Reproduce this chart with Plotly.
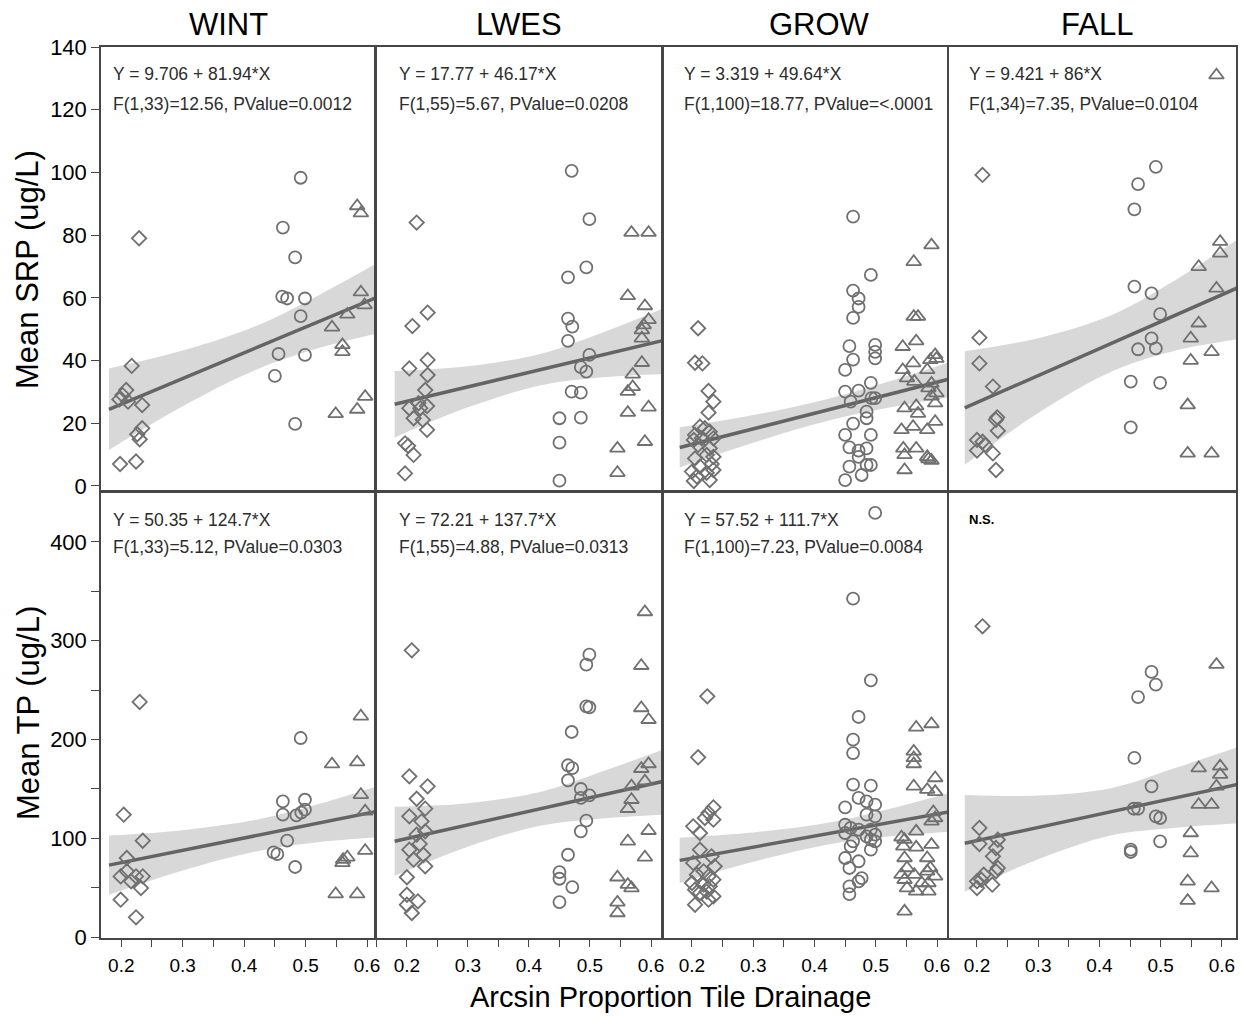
import plotly.graph_objects as go

# ---------------- data ----------------
seasons = ["WINT", "LWES", "GROW", "FALL"]
row_titles = ["Mean SRP (ug/L)", "Mean TP (ug/L)"]
x_tick_vals = [0.2, 0.3, 0.4, 0.5, 0.6]
x_tick_text = ["0.2", "0.3", "0.4", "0.5", "0.6"]

# WINT SRP
wint_srp_dia_x = [0.229, 0.217, 0.208, 0.202, 0.197, 0.211, 0.234, 0.234, 0.226, 0.230, 0.198, 0.224]
wint_srp_dia_y = [79.0, 38.3, 30.6, 29.0, 27.6, 26.9, 25.8, 18.4, 16.5, 14.9, 7.0, 7.8]
wint_srp_cir_x = [0.492, 0.463, 0.483, 0.462, 0.470, 0.499, 0.492, 0.456, 0.499, 0.450, 0.483]
wint_srp_cir_y = [98.3, 82.4, 72.9, 60.4, 59.8, 59.8, 54.2, 42.1, 41.8, 35.1, 19.8]
wint_srp_tri_x = [0.584, 0.590, 0.590, 0.568, 0.596, 0.543, 0.560, 0.560, 0.549, 0.584, 0.597]
wint_srp_tri_y = [89.3, 87.0, 61.8, 54.7, 57.7, 50.6, 45.0, 42.8, 23.0, 24.4, 28.5]

# WINT TP
wint_tp_dia_x = [0.230, 0.204, 0.235, 0.209, 0.199, 0.209, 0.216, 0.224, 0.235, 0.232, 0.199, 0.224]
wint_tp_dia_y = [238, 123.9, 97.5, 80, 61.4, 66.5, 56.4, 61.4, 61.4, 49.6, 37.8, 19.9]
wint_tp_cir_x = [0.492, 0.463, 0.499, 0.463, 0.485, 0.499, 0.493, 0.470, 0.448, 0.454, 0.483]
wint_tp_cir_y = [201.5, 137.4, 139, 123.9, 123.2, 128.9, 126, 97.5, 85.7, 84, 70.9]
wint_tp_tri_x = [0.590, 0.543, 0.584, 0.590, 0.597, 0.597, 0.568, 0.561, 0.560, 0.549, 0.584]
wint_tp_tri_y = [223.5, 175, 177, 144, 127.3, 87.4, 80.7, 78.3, 75, 43.5, 43.5]

# LWES SRP
lwes_srp_dia_x = [0.216, 0.209, 0.234, 0.204, 0.234, 0.234, 0.230, 0.204, 0.219, 0.222, 0.233, 0.211, 0.226, 0.233, 0.197, 0.202, 0.211, 0.197]
lwes_srp_dia_y = [84.0, 51.0, 55.3, 37.5, 40.2, 35.4, 30.6, 24.8, 26.4, 24.8, 25.5, 21.6, 21.1, 17.9, 13.6, 12.8, 9.9, 4.0]
lwes_srp_cir_x = [0.470, 0.499, 0.494, 0.464, 0.464, 0.471, 0.464, 0.499, 0.485, 0.494, 0.470, 0.485, 0.450, 0.485, 0.450, 0.450]
lwes_srp_cir_y = [100.5, 85.1, 69.7, 66.5, 53.4, 50.8, 46.3, 41.8, 37.9, 36.5, 30.1, 29.8, 21.6, 21.8, 13.8, 1.7]
lwes_srp_tri_x = [0.568, 0.596, 0.562, 0.590, 0.596, 0.588, 0.585, 0.585, 0.585, 0.570, 0.570, 0.562, 0.562, 0.596, 0.545, 0.590, 0.545]
lwes_srp_tri_y = [80.8, 80.8, 60.6, 57.4, 53.0, 51.3, 49.7, 47.1, 39.3, 35.6, 31.6, 30.1, 23.4, 25.1, 12.0, 14.1, 4.2]

# LWES TP
lwes_tp_dia_x = [0.208, 0.204, 0.234, 0.216, 0.230, 0.204, 0.224, 0.216, 0.230, 0.204, 0.221, 0.211, 0.227, 0.230, 0.200, 0.200, 0.218, 0.200, 0.208]
lwes_tp_dia_y = [290.3, 162.7, 152.6, 140, 130, 122.2, 117.1, 103.6, 107, 88.4, 94.2, 78.3, 83.3, 71.6, 60.5, 42.8, 36.1, 32.7, 24.3]
lwes_tp_cir_x = [0.499, 0.494, 0.494, 0.499, 0.470, 0.464, 0.471, 0.464, 0.485, 0.499, 0.485, 0.494, 0.485, 0.464, 0.450, 0.450, 0.471, 0.450]
lwes_tp_cir_y = [285.9, 275.8, 233.6, 232.6, 207.6, 173.9, 171.1, 158.7, 149.9, 143.5, 140.8, 117.8, 107, 83.3, 65.8, 59, 50.6, 35.4]
lwes_tp_tri_x = [0.590, 0.584, 0.584, 0.596, 0.596, 0.584, 0.590, 0.568, 0.568, 0.562, 0.596, 0.562, 0.590, 0.545, 0.562, 0.568, 0.545, 0.545]
lwes_tp_tri_y = [329.1, 274.7, 231.9, 220, 175.2, 170.4, 157.7, 152.6, 139, 129.9, 107.6, 96.9, 80.7, 60.5, 53, 49.6, 35.1, 24.3]

# GROW SRP
grow_srp_dia_x = [0.210, 0.205, 0.217, 0.227, 0.235, 0.227, 0.213, 0.221, 0.229, 0.205, 0.203, 0.216, 0.235, 0.210, 0.229, 0.224, 0.235, 0.205, 0.232, 0.213, 0.200, 0.208, 0.224, 0.229, 0.203, 0.235]
grow_srp_dia_y = [50.3, 39.3, 39.1, 30.3, 26.9, 23.4, 18.9, 18.4, 17.3, 16.3, 14.7, 15.2, 15.2, 13.1, 12.0, 9.9, 9.3, 8.8, 7.0, 6.2, 4.6, 3.0, 4.2, 1.9, 1.6, 5.1]
grow_srp_cir_x = [0.463, 0.492, 0.463, 0.472, 0.472, 0.463, 0.457, 0.499, 0.499, 0.499, 0.463, 0.450, 0.492, 0.450, 0.472, 0.459, 0.493, 0.499, 0.485, 0.485, 0.463, 0.450, 0.492, 0.457, 0.472, 0.485, 0.472, 0.457, 0.485, 0.492, 0.477, 0.450]
grow_srp_cir_y = [85.9, 67.3, 62.3, 59.8, 57.1, 53.6, 44.6, 45.0, 42.8, 40.7, 40.3, 37.0, 32.9, 30.1, 30.4, 26.9, 28.0, 28.0, 23.7, 21.6, 19.9, 16.3, 16.3, 12.3, 11.3, 12.0, 9.3, 6.2, 6.7, 6.7, 3.5, 1.9]
grow_srp_tri_x = [0.591, 0.562, 0.562, 0.569, 0.566, 0.544, 0.597, 0.589, 0.599, 0.561, 0.544, 0.551, 0.584, 0.563, 0.591, 0.586, 0.599, 0.591, 0.597, 0.547, 0.566, 0.569, 0.597, 0.542, 0.561, 0.584, 0.545, 0.566, 0.547, 0.584, 0.591, 0.586, 0.547]
grow_srp_tri_y = [76.8, 71.5, 54.0, 54.0, 46.2, 44.4, 41.8, 40.2, 40.6, 39.2, 37.0, 34.4, 37.0, 33.3, 32.7, 31.2, 29.6, 28.6, 26.4, 24.8, 25.5, 23.1, 20.5, 17.9, 18.9, 17.9, 12.0, 12.0, 9.9, 9.3, 8.1, 8.6, 5.1]

# GROW TP
grow_tp_dia_x = [0.225, 0.210, 0.235, 0.227, 0.221, 0.235, 0.202, 0.213, 0.213, 0.202, 0.232, 0.237, 0.219, 0.208, 0.227, 0.235, 0.200, 0.219, 0.229, 0.205, 0.213, 0.235, 0.227, 0.205, 0.224]
grow_tp_dia_y = [243.7, 182, 131.3, 125.6, 120.5, 118.8, 112.1, 105.3, 88.4, 75, 81.7, 71.6, 66.5, 63.1, 61.4, 58.0, 54.7, 53, 51.3, 47.9, 44.6, 41.2, 37.8, 32.7, 46]
grow_tp_cir_x = [0.499, 0.463, 0.492, 0.472, 0.463, 0.463, 0.463, 0.492, 0.472, 0.485, 0.450, 0.499, 0.485, 0.499, 0.450, 0.459, 0.472, 0.492, 0.485, 0.499, 0.450, 0.463, 0.492, 0.459, 0.499, 0.492, 0.450, 0.472, 0.457, 0.477, 0.472, 0.457, 0.457]
grow_tp_cir_y = [429.4, 342.6, 259.9, 222.8, 199.8, 186.3, 154.3, 153.2, 140.8, 137.4, 131.3, 134, 123.9, 122.2, 113.7, 110.4, 108.7, 108.7, 102, 103.6, 105.3, 96.9, 98.6, 91.8, 96.9, 88.4, 80, 76.7, 69.9, 59.7, 56.4, 51.3, 43.5]
grow_tp_tri_x = [0.566, 0.591, 0.562, 0.562, 0.562, 0.562, 0.597, 0.584, 0.597, 0.594, 0.597, 0.591, 0.566, 0.542, 0.547, 0.545, 0.591, 0.566, 0.547, 0.584, 0.551, 0.589, 0.542, 0.563, 0.584, 0.597, 0.547, 0.575, 0.586, 0.551, 0.566, 0.586, 0.547]
grow_tp_tri_y = [212.2, 215.7, 188, 181.3, 175.2, 152.6, 161, 149.2, 147, 126.6, 120.5, 117.1, 107, 101, 98.6, 91.8, 93.5, 90.8, 80, 80, 69.9, 69.9, 63.1, 63.1, 66.5, 61.4, 58, 54.7, 54.7, 49.6, 46.3, 46.3, 26]

# FALL SRP
fall_srp_dia_x = [0.209, 0.204, 0.204, 0.226, 0.233, 0.231, 0.234, 0.200, 0.209, 0.200, 0.213, 0.226, 0.231]
fall_srp_dia_y = [99.2, 47.3, 39.1, 31.7, 21.9, 21.1, 17.6, 14.7, 14.1, 11.3, 13.1, 10.4, 5.1]
fall_srp_cir_x = [0.492, 0.463, 0.457, 0.457, 0.485, 0.499, 0.485, 0.463, 0.492, 0.451, 0.499, 0.451]
fall_srp_cir_y = [101.8, 96.3, 88.2, 63.6, 61.4, 54.8, 47.1, 43.6, 43.9, 33.3, 32.9, 18.7]
fall_srp_tri_x = [0.591, 0.597, 0.597, 0.562, 0.591, 0.562, 0.549, 0.583, 0.549, 0.544, 0.544, 0.583]
fall_srp_tri_y = [131.0, 77.9, 74.2, 69.9, 63.0, 51.9, 47.1, 42.8, 40.0, 25.8, 10.4, 10.4]

# FALL TP
fall_tp_dia_x = [0.209, 0.204, 0.204, 0.234, 0.231, 0.226, 0.234, 0.231, 0.211, 0.200, 0.200, 0.225, 0.207]
fall_tp_dia_y = [314.6, 110.4, 94.2, 98.5, 90.1, 81.7, 69.9, 66.5, 63.1, 56.4, 49.6, 53, 58]
fall_tp_cir_x = [0.485, 0.492, 0.463, 0.457, 0.485, 0.456, 0.463, 0.492, 0.499, 0.499, 0.451, 0.451]
fall_tp_cir_y = [268.4, 255.5, 243, 181.3, 152.6, 129.9, 129.9, 122.2, 120.5, 96.9, 88.4, 86.1]
fall_tp_tri_x = [0.591, 0.562, 0.597, 0.597, 0.591, 0.562, 0.583, 0.549, 0.549, 0.544, 0.583, 0.544]
fall_tp_tri_y = [275.8, 171.1, 172.9, 164.4, 152.6, 134, 134, 105.3, 85, 56.4, 49.6, 36.8]

# regression fits (intercept, slope) as printed; FALL TP
fit_intercepts = [9.706, 17.77, 3.319, 9.421, 50.35, 72.21, 57.52, 70.9]
fit_slopes = [81.94, 46.17, 49.64, 86.0, 124.7, 137.7, 111.7, 133.6]
fit_x = [0.18, 0.625]

# confidence band edges read at band_x
band_x = [0.18, 0.30, 0.42, 0.52, 0.625]
wint_srp_hi = [37.5, 43.2, 51.1, 60.7, 72.0]
wint_srp_lo = [11.5, 25.4, 37.1, 43.9, 49.0]
lwes_srp_hi = [36.7, 38.2, 42.2, 48.9, 57.0]
lwes_srp_lo = [15.5, 25.1, 32.1, 34.65, 35.8]
grow_srp_hi = [18.7, 22.6, 27.7, 33.25, 39.8]
grow_srp_lo = [5.9, 13.8, 20.7, 24.95, 28.4]
fall_srp_hi = [43.0, 47.15, 54.5, 65.2, 78.6]
fall_srp_lo = [6.8, 23.25, 36.5, 43.0, 46.8]
wint_tp_hi = [102.8, 108.2, 118.7, 134.4, 154.2]
wint_tp_lo = [42.8, 67.4, 86.7, 96.0, 101.2]
lwes_tp_hi = [132, 135.5, 147.2, 167.6, 191.0]
lwes_tp_lo = [62, 91.5, 112.8, 120.0, 124.0]
grow_tp_hi = [100.6, 105.9, 115.4, 129.45, 146.9]
grow_tp_lo = [54.6, 76.1, 93.4, 101.75, 106.7]
fall_tp_hi = [143.9, 143.2, 151, 170.4, 192.0]
fall_tp_lo = [45.9, 78.8, 103, 110.4, 115.0]

stat_line1 = ["Y = 9.706 + 81.94*X", "Y = 17.77 + 46.17*X", "Y = 3.319 + 49.64*X", "Y = 9.421 + 86*X",
              "Y = 50.35 + 124.7*X", "Y = 72.21 + 137.7*X", "Y = 57.52 + 111.7*X", "N.S."]
stat_line2 = ["F(1,33)=12.56, PValue=0.0012", "F(1,55)=5.67, PValue=0.0208", "F(1,100)=18.77, PValue=<.0001",
              "F(1,34)=7.35, PValue=0.0104", "F(1,33)=5.12, PValue=0.0303", "F(1,55)=4.88, PValue=0.0313",
              "F(1,100)=7.23, PValue=0.0084", ""]

# ---------------- assemble ----------------
panels = [
    (wint_srp_dia_x, wint_srp_dia_y, wint_srp_cir_x, wint_srp_cir_y, wint_srp_tri_x, wint_srp_tri_y, wint_srp_hi, wint_srp_lo),
    (lwes_srp_dia_x, lwes_srp_dia_y, lwes_srp_cir_x, lwes_srp_cir_y, lwes_srp_tri_x, lwes_srp_tri_y, lwes_srp_hi, lwes_srp_lo),
    (grow_srp_dia_x, grow_srp_dia_y, grow_srp_cir_x, grow_srp_cir_y, grow_srp_tri_x, grow_srp_tri_y, grow_srp_hi, grow_srp_lo),
    (fall_srp_dia_x, fall_srp_dia_y, fall_srp_cir_x, fall_srp_cir_y, fall_srp_tri_x, fall_srp_tri_y, fall_srp_hi, fall_srp_lo),
    (wint_tp_dia_x, wint_tp_dia_y, wint_tp_cir_x, wint_tp_cir_y, wint_tp_tri_x, wint_tp_tri_y, wint_tp_hi, wint_tp_lo),
    (lwes_tp_dia_x, lwes_tp_dia_y, lwes_tp_cir_x, lwes_tp_cir_y, lwes_tp_tri_x, lwes_tp_tri_y, lwes_tp_hi, lwes_tp_lo),
    (grow_tp_dia_x, grow_tp_dia_y, grow_tp_cir_x, grow_tp_cir_y, grow_tp_tri_x, grow_tp_tri_y, grow_tp_hi, grow_tp_lo),
    (fall_tp_dia_x, fall_tp_dia_y, fall_tp_cir_x, fall_tp_cir_y, fall_tp_tri_x, fall_tp_tri_y, fall_tp_hi, fall_tp_lo),
]

W, H = 1241, 1017
FONT = "Liberation Sans, Arial, Helvetica, sans-serif"
col_px = [(101, 375), (376, 662), (663, 947), (949, 1236)]
col_ranges = [[0.167, 0.613], [0.1494, 0.618], [0.1527, 0.6163], [0.1543, 0.6229]]
row_px = [(47, 490), (493, 938)]
row_ranges = [[-1.28, 140], [-1.0, 449.6]]
title_cx = [228, 519, 819, 1097]
stat_y = [(0.938, 0.871), (0.940, 0.878)]

MK = "rgb(112,112,112)"
LINE = "rgb(100,100,100)"
BAND = "rgb(216,216,216)"
AX = "rgb(70,70,70)"
TXT = "rgb(45,45,45)"

fig = go.Figure()
layout = dict(width=W, height=H, margin=dict(l=0, r=0, t=0, b=0, pad=0, autoexpand=False),
              paper_bgcolor="white", plot_bgcolor="white", showlegend=False,
              font=dict(family=FONT, color="black"))
annotations = []

for i, p in enumerate(panels):
    r, c = divmod(i, 4)
    k = i + 1
    sfx = "" if k == 1 else str(k)
    xa, ya = "x" + sfx, "y" + sfx
    dx, dy, cx, cy, tx, ty, hi, lo = p
    # band
    fig.add_trace(go.Scatter(x=band_x, y=lo, mode="lines", line=dict(width=0, shape="spline", color=BAND),
                             xaxis=xa, yaxis=ya, hoverinfo="skip"))
    fig.add_trace(go.Scatter(x=band_x, y=hi, mode="lines", line=dict(width=0, shape="spline", color=BAND),
                             fill="tonexty", fillcolor=BAND, xaxis=xa, yaxis=ya, hoverinfo="skip"))
    # fit line
    fig.add_trace(go.Scatter(x=fit_x, y=[fit_intercepts[i] + fit_slopes[i] * v for v in fit_x], mode="lines",
                             line=dict(color=LINE, width=3.5), xaxis=xa, yaxis=ya, hoverinfo="skip"))
    # markers
    for xs, ys, sym, sz in ((dx, dy, "diamond-open", 11), (cx, cy, "circle-open", 12), (tx, ty, "triangle-up-open", 13)):
        fig.add_trace(go.Scatter(x=xs, y=ys, mode="markers", xaxis=xa, yaxis=ya,
                                 marker=dict(symbol=sym, size=sz, color=MK, line=dict(width=1.8, color=MK))))

    x0, x1 = col_px[c]
    y0, y1 = row_px[r]
    xax = dict(domain=[x0 / W, x1 / W], range=col_ranges[c], anchor=ya, showgrid=False, zeroline=False,
               showline=True, mirror=True, linecolor=AX, linewidth=1.5, fixedrange=True, automargin=False)
    if r == 1:
        xax.update(ticks="outside", ticklen=7, tickwidth=1.2, tickcolor=AX, tickvals=x_tick_vals,
                   ticktext=x_tick_text, tickfont=dict(size=19, color="black", family=FONT),
                   ticklabelstandoff=2,
                   minor=dict(dtick=0.05, tick0=0.2, ticks="outside", ticklen=7, tickwidth=1.2, tickcolor=AX))
    else:
        xax.update(ticks="", showticklabels=False)
    yax = dict(domain=[1 - y1 / H, 1 - y0 / H], range=row_ranges[r], anchor=xa, showgrid=False, zeroline=False,
               showline=True, mirror=True, linecolor=AX, linewidth=1.5, fixedrange=True, automargin=False)
    if c == 0:
        if r == 0:
            yax.update(ticks="outside", ticklen=8, tickwidth=1.2, tickcolor=AX, tick0=0, dtick=20,
                       tickfont=dict(size=22, color="black", family=FONT))
        else:
            yax.update(ticks="outside", ticklen=8, tickwidth=1.2, tickcolor=AX, tick0=0, dtick=100,
                       tickfont=dict(size=22, color="black", family=FONT),
                       minor=dict(dtick=50, ticks="outside", ticklen=8, tickwidth=1.2, tickcolor=AX))
    else:
        yax.update(ticks="", showticklabels=False)
    layout["xaxis" + sfx] = xax
    layout["yaxis" + sfx] = yax

    # stats text
    s1, s2 = stat_y[r]
    if stat_line1[i] == "N.S.":
        annotations.append(dict(text="<b>N.S.</b>", x=0.183, y=s1, xref=xa, yref=ya + " domain",
                                xanchor="left", yanchor="middle", showarrow=False,
                                font=dict(size=13, color="black", family=FONT)))
    else:
        annotations.append(dict(text=stat_line1[i], x=0.183, y=s1, xref=xa, yref=ya + " domain",
                                xanchor="left", yanchor="middle", showarrow=False,
                                font=dict(size=17.5, color=TXT, family=FONT)))
        annotations.append(dict(text=stat_line2[i], x=0.183, y=s2, xref=xa, yref=ya + " domain",
                                xanchor="left", yanchor="middle", showarrow=False,
                                font=dict(size=17.5, color=TXT, family=FONT)))

for c, s in enumerate(seasons):
    annotations.append(dict(text=s, x=title_cx[c] / W, y=1 - 25 / H, xref="paper", yref="paper",
                            xanchor="center", yanchor="middle", showarrow=False,
                            font=dict(size=31, color="black", family=FONT)))

annotations.append(dict(text=row_titles[0], x=28 / W, y=1 - 270 / H, xref="paper", yref="paper",
                        textangle=-90, xanchor="center", yanchor="middle", showarrow=False,
                        font=dict(size=31, color="black", family=FONT)))
annotations.append(dict(text=row_titles[1], x=28 / W, y=1 - 713 / H, xref="paper", yref="paper",
                        textangle=-90, xanchor="center", yanchor="middle", showarrow=False,
                        font=dict(size=31, color="black", family=FONT)))
annotations.append(dict(text="Arcsin Proportion Tile Drainage", x=670 / W, y=1 - 997 / H, xref="paper",
                        yref="paper", xanchor="center", yanchor="middle", showarrow=False,
                        font=dict(size=29, color="black", family=FONT)))

layout["annotations"] = annotations
fig.update_layout(**layout)
fig.write_html("out.html")
